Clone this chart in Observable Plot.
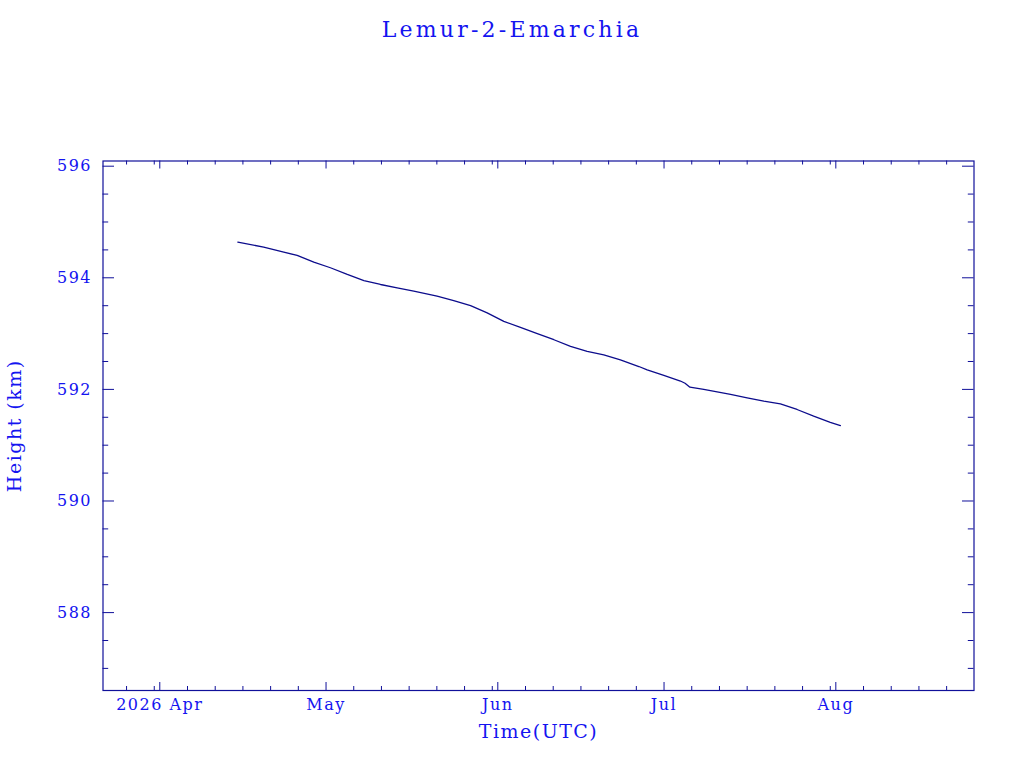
<!DOCTYPE html>
<html><head><meta charset="utf-8">
<script src="https://cdn.jsdelivr.net/npm/d3@7"></script>
<script src="https://cdn.jsdelivr.net/npm/@observablehq/plot@0.6"></script>
<style>
body{margin:0;background:#fff;}
#title{height:60px;text-align:center;font-family:"DejaVu Serif";font-size:22px;color:#1414f0;line-height:60px;letter-spacing:3.2px;}
</style></head><body>
<div id="title">Lemur-2-Emarchia</div>
<div id="chart"></div>
<script>
// ---- data ----
const dates = [
  "2026-04-15T02:00Z","2026-04-19T18:00Z","2026-04-23T09:00Z","2026-04-25T19:00Z","2026-04-28T19:00Z",
  "2026-05-01T19:00Z","2026-05-04T20:00Z","2026-05-07T20:00Z","2026-05-10T20:00Z","2026-05-13T20:00Z",
  "2026-05-16T20:00Z","2026-05-21T01:00Z","2026-05-24T01:00Z","2026-05-27T02:00Z",
  "2026-05-30T02:00Z","2026-06-02T02:00Z","2026-06-05T02:00Z","2026-06-08T03:00Z","2026-06-11T03:00Z",
  "2026-06-14T03:00Z","2026-06-17T03:00Z","2026-06-20T03:00Z","2026-06-23T03:00Z","2026-06-26T11:00Z",
  "2026-06-27T23:00Z","2026-06-30T23:00Z","2026-07-03T23:00Z","2026-07-04T19:00Z","2026-07-05T16:00Z","2026-07-08T04:00Z",
  "2026-07-13T00:00Z","2026-07-16T00:00Z","2026-07-19T00:00Z","2026-07-22T00:00Z","2026-07-25T00:00Z",
  "2026-07-28T00:00Z","2026-07-31T00:00Z","2026-08-01T20:00Z"
];
const heights = [
  594.64, 594.55, 594.46, 594.40, 594.28,
  594.18, 594.06, 593.95, 593.88, 593.82,
  593.76, 593.67, 593.59, 593.50,
  593.37, 593.22, 593.11, 593.00, 592.89,
  592.77, 592.68, 592.62, 592.53, 592.41,
  592.35, 592.25, 592.15, 592.11, 592.04, 592.00,
  591.91, 591.85, 591.79, 591.74, 591.64,
  591.52, 591.41, 591.35
];
const monthStarts = ["2026-04-01","2026-05-01","2026-06-01","2026-07-01","2026-08-01"];
const monthLabels = ["2026 Apr","May","Jun","Jul","Aug"];
const minorMonths = ["2026-03","2026-04","2026-05","2026-06","2026-07","2026-08"];
const minorDays = [1,6,11,16,21,26,31];
const xDomain = ["2026-03-21T18:00Z","2026-08-25T22:30Z"];
const yDomain = [586.604, 596.093];
const yMajor = [588, 590, 592, 594, 596];
const yMinor = [587, 587.5, 588.5, 589, 589.5, 590.5, 591, 591.5, 592.5, 593, 593.5, 594.5, 595, 595.5];
const title = "Lemur-2-Emarchia";
const xLabel = "Time(UTC)";
const yLabel = "Height (km)";

// ---- build ----
const textColor = "#1414f0", frameColor = "#10109a", lineColor = "#0c0c8c";
const W = 1024, H = 708;
const mT = 100.5, mB = 78, mL = 102.5, mR = 50.5;
const fh = H - mT - mB, fw = W - mL - mR;
const data = dates.map((d, i) => ({date: new Date(d), h: heights[i]}));
const xMajor = monthStarts.map(d => new Date(d + "T00:00Z"));
const labelMap = new Map(xMajor.map((d, i) => [+d, monthLabels[i]]));
const dom = xDomain.map(d => new Date(d));
const xMinor = [];
for (const m of minorMonths) {
  for (const day of minorDays) {
    const [yy, mm] = m.split("-").map(Number);
    const dt = new Date(Date.UTC(yy, mm - 1, day));
    if (dt.getUTCMonth() !== mm - 1) continue;
    if (day === 1) continue;
    if (dt >= dom[0] && dt <= dom[1]) xMinor.push(dt);
  }
}
document.getElementById("title").textContent = title;

const plot = Plot.plot({
  width: W, height: H,
  marginTop: mT, marginBottom: mB, marginLeft: mL, marginRight: mR,
  style: {fontFamily: "DejaVu Serif", fontSize: "16px", color: textColor, background: "#fff", letterSpacing: "1.5px"},
  x: {type: "utc", domain: dom, axis: null},
  y: {domain: yDomain, axis: null},
  marks: [
    Plot.frame({stroke: frameColor, strokeWidth: 1.2}),
    Plot.ruleX(xMajor, {stroke: frameColor, insetTop: fh - 8}),
    Plot.ruleX(xMajor, {stroke: frameColor, insetBottom: fh - 8}),
    Plot.ruleX(xMinor, {stroke: frameColor, insetTop: fh - 4}),
    Plot.ruleX(xMinor, {stroke: frameColor, insetBottom: fh - 4}),
    Plot.ruleY(yMajor, {stroke: frameColor, insetRight: fw - 11.5}),
    Plot.ruleY(yMajor, {stroke: frameColor, insetLeft: fw - 11.5}),
    Plot.ruleY(yMinor, {stroke: frameColor, insetRight: fw - 5.7}),
    Plot.ruleY(yMinor, {stroke: frameColor, insetLeft: fw - 5.7}),
    Plot.text(xMajor, {x: d => d, frameAnchor: "bottom", dy: 19, textAnchor: "middle", text: d => labelMap.get(+d), fill: textColor, fontSize: 16}),
    Plot.text(yMajor, {y: d => d, frameAnchor: "left", dx: -11, textAnchor: "end", text: d => String(d), fill: textColor, fontSize: 16}),
    Plot.text([xLabel], {frameAnchor: "bottom", dy: 47, textAnchor: "middle", text: d => d, fill: textColor, fontSize: 19, letterSpacing: "2px"}),
    Plot.text([yLabel], {frameAnchor: "left", dx: -88, textAnchor: "middle", rotate: -90, text: d => d, fill: textColor, fontSize: 19, letterSpacing: "2.4px"}),
    Plot.line(data, {x: "date", y: "h", stroke: lineColor, strokeWidth: 1.3})
  ]
});
document.getElementById("chart").appendChild(plot);
</script>
</body></html>
